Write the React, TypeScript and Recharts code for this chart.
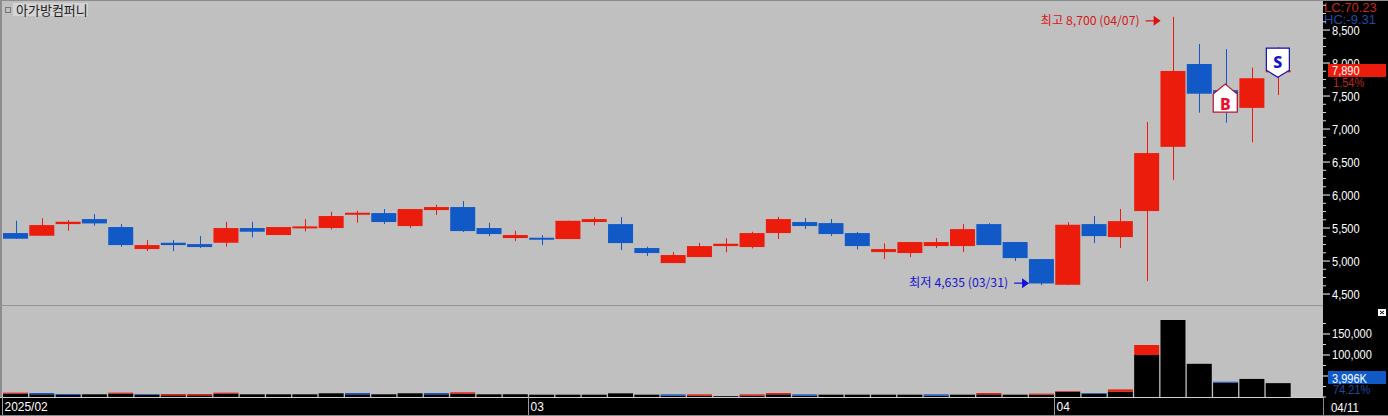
import React from 'react';
import { ComposedChart, BarChart, Bar, XAxis, YAxis, ReferenceDot } from 'recharts';

const dates = ['02/03','02/04','02/05','02/06','02/07','02/10','02/11','02/12','02/13','02/14','02/17','02/18','02/19','02/20','02/21','02/24','02/25','02/26','02/27','02/28','03/04','03/05','03/06','03/07','03/10','03/11','03/12','03/13','03/14','03/17','03/18','03/19','03/20','03/21','03/24','03/25','03/26','03/27','03/28','03/31','04/01','04/02','04/03','04/04','04/07','04/08','04/09','04/10','04/11'];
const opens = [5424,5383,5560,5636,5515,5182,5277,5257,5277,5500,5394,5500,5500,5701,5727,5530,5772,5818,5500,5348,5353,5333,5591,5560,5197,4969,5060,5227,5212,5424,5591,5575,5424,5136,5121,5227,5227,5560,5288,5030,4640,5560,5363,5757,6730,7985,7590,7320,7860];
const highs = [5610,5647,5621,5712,5560,5318,5318,5378,5595,5595,5515,5636,5747,5762,5788,5788,5853,5909,5580,5459,5394,5610,5666,5666,5217,5136,5277,5344,5444,5671,5651,5636,5439,5267,5288,5348,5560,5575,5288,5030,5590,5682,5788,7106,8700,8288,8210,7930,8240];
const lows = [5338,5383,5459,5535,5217,5151,5151,5197,5217,5359,5394,5450,5480,5580,5560,5500,5697,5439,5378,5303,5242,5333,5540,5166,5076,4969,5060,5132,5192,5333,5485,5378,5177,5030,5060,5197,5136,5242,5000,4635,4635,5272,5197,4697,6230,7248,7098,6800,7515];
const closes = [5338,5545,5595,5570,5242,5242,5242,5212,5500,5444,5515,5525,5682,5732,5591,5788,5818,5454,5409,5394,5333,5610,5636,5272,5121,5091,5227,5262,5424,5636,5530,5409,5227,5182,5288,5288,5484,5242,5045,4660,5550,5378,5605,6636,7880,7535,7262,7770,7890];
const volBlack = [8000,6400,4800,6400,8000,5600,4000,4000,8000,6400,6400,6400,8800,6400,6400,8800,6400,8000,6400,6400,5550,5550,5550,8730,5550,3175,3175,2000,3175,6350,3175,5550,5550,5550,5550,3175,5550,6350,5550,5500,12500,8000,12500,100000,183000,79000,34000,43000,33000];
const volRed = [2400,0,0,0,2400,0,3200,3200,2400,0,0,0,0,0,0,0,0,3200,0,0,0,0,0,0,0,0,3175,0,3175,3175,0,0,0,0,0,0,0,3175,0,2500,1500,0,5500,23800,0,0,0,0,0];
const volBlue = [0,3200,2400,0,0,1600,0,0,0,0,0,0,0,3200,0,0,3200,0,0,0,0,0,0,0,0,3175,0,0,0,0,3175,0,0,0,0,3175,0,0,0,0,0,1500,0,0,0,0,2400,0,0];
const priceMajor = [4500,5000,5500,6000,6500,7000,7500,8000,8500];
const priceMinor = [4625,4750,4875,5125,5250,5375,5625,5750,5875,6125,6250,6375,6625,6750,6875,7125,7250,7375,7625,7750,7875,8125,8250,8375,8625,8750,8875];
const volMajor = [50000,100000,150000];
const volMinor = [0,25000,75000,125000,175000];
const monthLabels: Record<string,string> = { '02/03': '2025/02', '03/04': '03', '04/01': '04' };
const lastPrice = 7890;
const lastPriceLabel = '7,890';
const lastPriceChange = '1.54%';
const lastVolumePos = 45700;
const lastVolumeLabel = '3,996K';
const lastVolumeShare = '74.21%';

const RED = '#EC1C0C';
const BLUE = '#1259C8';
const AXIS_FONT = '"Liberation Sans", sans-serif';
const KR_FONT = '"Noto Sans CJK KR", sans-serif';

const candles = dates.map((date, i) => ({ date, open: opens[i], high: highs[i], low: lows[i], close: closes[i], range: [lows[i], highs[i]] }));
const volumes = dates.map((date, i) => ({ date, black: volBlack[i], red: volRed[i], blue: volBlue[i] }));

function AxisText({ x, y, fill, sx = 0.85, children }: any) {
  return (
    <text transform={`translate(${x} ${y}) scale(${sx} 1)`} fill={fill} fontSize={13} fontFamily={AXIS_FONT}>{children}</text>
  );
}

function Candle(props: any) {
  const { x, y, width, height, payload } = props;
  const k = height / (payload.high - payload.low);
  const up = payload.close >= payload.open;
  const col = up ? RED : BLUE;
  const top = y + (payload.high - Math.max(payload.open, payload.close)) * k;
  const h = Math.max(2, Math.abs(payload.close - payload.open) * k);
  const cx = Math.round(x + width / 2);
  return (
    <g>
      <line x1={cx + 0.5} x2={cx + 0.5} y1={y} y2={y + height} stroke={col} strokeWidth={1} />
      <rect x={x} y={top} width={width} height={h} fill={col} />
    </g>
  );
}

function PriceTick(props: any) {
  const { x, y, payload } = props;
  const v = payload.value;
  const left = x;
  if (v === lastPrice) {
    return (
      <g>
        <rect x={left + 5} y={y - 6.3} width={58} height={13} fill={RED} />
        <AxisText x={left + 9} y={y + 5} fill="#fff">{lastPriceLabel}</AxisText>
        <AxisText x={left + 10} y={y + 17} fill="#B52A1A">{lastPriceChange}</AxisText>
      </g>
    );
  }
  if (priceMajor.includes(v)) {
    return (
      <g>
        <line x1={left} x2={left + 7} y1={y} y2={y} stroke="#fff" />
        <AxisText x={left + 9} y={y + 4.5} fill="#fff">{v.toLocaleString('en-US')}</AxisText>
      </g>
    );
  }
  return <line x1={left} x2={left + 3} y1={y} y2={y} stroke="#ddd" />;
}

function VolumeTick(props: any) {
  const { x, y, payload } = props;
  const v = payload.value;
  const left = x;
  if (v === lastVolumePos) {
    return (
      <g>
        <rect x={left + 5} y={y - 6.8} width={58} height={13} fill={BLUE} />
        <AxisText x={left + 9} y={y + 4.7} fill="#fff">{lastVolumeLabel}</AxisText>
        <AxisText x={left + 10} y={y + 16.2} fill="#1A4A9E">{lastVolumeShare}</AxisText>
      </g>
    );
  }
  if (volMajor.includes(v)) {
    return (
      <g>
        <line x1={left} x2={left + 7} y1={y} y2={y} stroke="#fff" />
        <AxisText x={left + 9} y={y + 4.5} fill="#fff">{v.toLocaleString('en-US')}</AxisText>
      </g>
    );
  }
  return <line x1={left} x2={left + 3} y1={y} y2={y} stroke="#ddd" />;
}

function MonthTick(props: any) {
  const { x, y, payload } = props;
  const label = monthLabels[payload.value];
  if (!label) return null;
  const left = Math.round(x - 13.15);
  return (
    <g>
      <line x1={left + 0.5} x2={left + 0.5} y1={y} y2={y + 18} stroke="#9a9a9a" />
      <AxisText x={left + 2.5} y={y + 14} fill="#fff" sx={0.92}>{label}</AxisText>
    </g>
  );
}

function HighNote(props: any) {
  const { cx, cy } = props;
  const ay = cy + 4;
  return (
    <g>
      <text x={cx - 33} y={ay + 4} textAnchor="end" fill="#D81818" fontSize={12} fontFamily={KR_FONT} textLength={99} lengthAdjust="spacingAndGlyphs">최고 8,700 (04/07)</text>
      <line x1={cx - 27} x2={cx - 15} y1={ay} y2={ay} stroke="#E01010" strokeWidth={1.2} />
      <path d={`M${cx - 19} ${ay - 5} L${cx - 12} ${ay} L${cx - 19} ${ay + 5} Z`} fill="#E01010" />
    </g>
  );
}

function LowNote(props: any) {
  const { cx, cy } = props;
  const ay = cy - 2;
  return (
    <g>
      <text x={cx - 33} y={ay + 4} textAnchor="end" fill="#1414D0" fontSize={12} fontFamily={KR_FONT} textLength={99} lengthAdjust="spacingAndGlyphs">최저 4,635 (03/31)</text>
      <line x1={cx - 27} x2={cx - 16} y1={ay} y2={ay} stroke="#1010E0" strokeWidth={1.2} />
      <path d={`M${cx - 19} ${ay - 5} L${cx - 12} ${ay} L${cx - 19} ${ay + 5} Z`} fill="#1010E0" />
    </g>
  );
}

function BuyMark(props: any) {
  const { cx, cy } = props;
  return (
    <g>
      <path d={`M${cx} ${cy} L${cx + 12} ${cy + 10} L${cx + 12} ${cy + 28} L${cx - 12} ${cy + 28} L${cx - 12} ${cy + 10} Z`} fill="#fff" stroke="#C01030" strokeWidth={1.2} />
      <text x={cx} y={cy + 26} textAnchor="middle" fill="#E81030" fontSize={16} fontWeight={800} fontFamily='"Noto Sans", sans-serif'>B</text>
    </g>
  );
}

function SellMark(props: any) {
  const { cx, cy } = props;
  return (
    <g>
      <path d={`M${cx} ${cy} L${cx + 11.5} ${cy - 7} L${cx + 11.5} ${cy - 29} L${cx - 11.5} ${cy - 29} L${cx - 11.5} ${cy - 7} Z`} fill="#fff" stroke="#1010B0" strokeWidth={1.2} />
      <text x={cx} y={cy - 9.5} textAnchor="middle" fill="#1414D0" fontSize={16} fontWeight={800} fontFamily='"Noto Sans", sans-serif'>S</text>
    </g>
  );
}

export default function App() {
  const abs = (l: number, t: number, w: number, h: number, bg: string): React.CSSProperties => ({ position: 'absolute', left: l, top: t, width: w, height: h, background: bg });
  return (
    <div style={abs(0, 0, 1388, 416, '#000')}>
      <div style={abs(0, 0, 1323, 305, '#C0C0C0')} />
      <div style={abs(0, 306, 1323, 91, '#C0C0C0')} />
      <div style={abs(0, 0, 1388, 1, '#8c8c8c')} />
      <div style={abs(0, 0, 2, 397, '#8c8c8c')} />
      <div style={abs(0, 305, 1323, 1, '#949494')} />
      <div style={abs(0, 397, 1323, 1, '#d0d0d0')} />
      <div style={abs(1323, 397, 1, 18, '#8a8a8a')} />
      <div style={abs(0, 415, 1388, 1, '#8a8a8a')} />
      <div style={abs(13, 3, 75, 13, '#D4D4D4')} />
      <div style={{ ...abs(5, 7, 4, 4, 'transparent'), border: '1px solid #777', boxSizing: 'content-box' }} />
      <div style={{ position: 'absolute', left: 16, top: 1, fontFamily: KR_FONT, fontSize: 13, lineHeight: '17px', color: '#222', whiteSpace: 'nowrap' }}>아가방컴퍼니</div>
      <div style={{ position: 'absolute', left: 1324, top: 1, fontFamily: AXIS_FONT, fontSize: 13, lineHeight: '14px', color: '#C02A18', whiteSpace: 'nowrap' }}>LC:70.23</div>
      <div style={{ position: 'absolute', left: 1324, top: 13, fontFamily: AXIS_FONT, fontSize: 13, lineHeight: '14px', color: '#1E4CA6', whiteSpace: 'nowrap' }}>HC:-9.31</div>
      <svg style={{ position: 'absolute', left: 1378, top: 309 }} width={8} height={7}>
        <rect width={8} height={7} fill="#fff" />
        <path d="M2 2 L6 5 M6 2 L2 5" stroke="#000" strokeWidth={1} />
      </svg>
      <svg style={{ position: 'absolute', left: 1328, top: 398 }} width={40} height={17}>
        <AxisText x={3} y={14} fill="#fff" sx={0.88}>04/11</AxisText>
      </svg>

      <div style={{ position: 'absolute', left: 0, top: 0 }}>
        <ComposedChart width={1388} height={305} data={candles} margin={{ top: 0, right: 0, bottom: 0, left: 2 }}>
          <XAxis dataKey="date" hide padding={{ left: 0, right: 32 }} />
          <YAxis orientation="right" width={65} type="number" domain={[4334, 8955]} allowDataOverflow ticks={[...priceMinor, ...priceMajor, lastPrice]} interval={0} tick={PriceTick} tickLine={false} axisLine={false} tickSize={0} tickMargin={0} />
          <Bar dataKey="range" barSize={25} isAnimationActive={false} shape={Candle} />
          <ReferenceDot x="04/07" y={8700} ifOverflow="visible" shape={HighNote} />
          <ReferenceDot x="03/31" y={4635} ifOverflow="visible" shape={LowNote} />
          <ReferenceDot x="04/09" y={7680} ifOverflow="visible" shape={BuyMark} />
          <ReferenceDot x="04/11" y={7785} ifOverflow="visible" shape={SellMark} />
        </ComposedChart>
      </div>

      <div style={{ position: 'absolute', left: 0, top: 305 }}>
        <BarChart width={1388} height={111} data={volumes} margin={{ top: 0, right: 0, bottom: 0, left: 2 }}>
          <XAxis dataKey="date" height={19} interval={0} padding={{ left: 0, right: 32 }} tick={MonthTick} tickLine={false} axisLine={false} tickSize={0} tickMargin={0} />
          <YAxis orientation="right" width={65} type="number" domain={[0, 219000]} allowDataOverflow ticks={[...volMinor, ...volMajor, lastVolumePos]} interval={0} tick={VolumeTick} tickLine={false} axisLine={false} tickSize={0} tickMargin={0} />
          <Bar dataKey="black" stackId="v" barSize={25} fill="#000" isAnimationActive={false} />
          <Bar dataKey="red" stackId="v" barSize={25} fill={RED} isAnimationActive={false} />
          <Bar dataKey="blue" stackId="v" barSize={25} fill={BLUE} isAnimationActive={false} />
        </BarChart>
      </div>
    </div>
  );
}
